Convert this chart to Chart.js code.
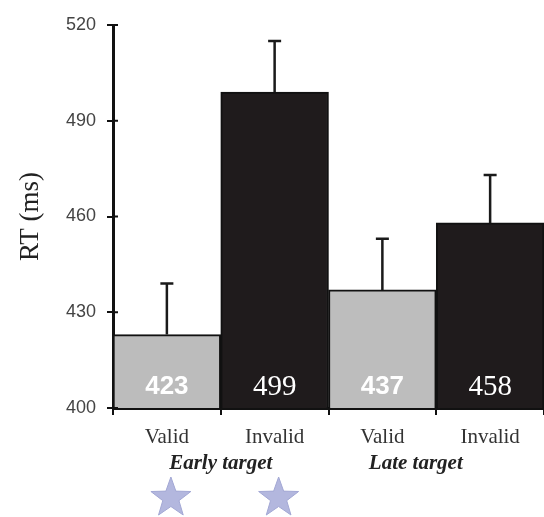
<!DOCTYPE html>
<html>
<head>
<meta charset="utf-8">
<script src="https://cdn.jsdelivr.net/npm/chart.js@4"></script>
<style>
  html, body { margin: 0; padding: 0; background: #fff; }
  #wrap { width: 544px; height: 517px; }
</style>
</head>
<body>
<div id="wrap"><canvas id="rtChart"></canvas></div>
<script>
// Reaction time data (ms)
const conditions = ["Valid", "Invalid", "Valid", "Invalid"];
const rtValues = [423, 499, 437, 458];
const rtErrors = [16, 16, 16, 15];
const groups = ["Early target", "Late target"];
const starredBars = [0, 1];
const yTicks = [400, 430, 460, 490, 520];

const barColors = ["#bcbcbc", "#1f1b1c", "#bdbdbd", "#1f1b1c"];

// error bars, value labels, group labels and stars
const extras = {
    id: "extras",
    afterDatasetsDraw(chart) {
        const ctx = chart.ctx;
        const x = chart.scales.x;
        const y = chart.scales.y;
        const area = chart.chartArea;
        const catW = (area.right - area.left) / conditions.length;

        // small inner ticks on the y axis
        ctx.save();
        ctx.strokeStyle = "#111";
        ctx.lineWidth = 2;
        yTicks.forEach(t => {
            const py = y.getPixelForValue(t);
            ctx.beginPath();
            ctx.moveTo(area.left, py);
            ctx.lineTo(area.left + 5, py);
            ctx.stroke();
        });

        // error bars (upper only)
        ctx.lineWidth = 2.5;
        ctx.strokeStyle = "#1a1a1a";
        rtValues.forEach((v, i) => {
            const cx = x.getPixelForValue(i);
            const top = y.getPixelForValue(v + rtErrors[i]);
            const base = y.getPixelForValue(v);
            ctx.beginPath();
            ctx.moveTo(cx, base);
            ctx.lineTo(cx, top);
            ctx.moveTo(cx - 6.5, top);
            ctx.lineTo(cx + 6.5, top);
            ctx.stroke();
        });

        // values inside bars
        ctx.fillStyle = "#fff";
        ctx.textAlign = "center";
        ctx.textBaseline = "middle";
        rtValues.forEach((v, i) => {
            const cx = x.getPixelForValue(i);
            ctx.font = i % 2 === 0 ? "bold 26px 'Liberation Sans', Arial, sans-serif"
                                   : "29px 'Liberation Serif', 'Times New Roman', serif";
            ctx.fillText(String(v), cx, y.getPixelForValue(400) - 21);
        });

        // group labels
        ctx.fillStyle = "#222";
        ctx.font = "italic bold 21px 'Liberation Serif', 'Times New Roman', serif";
        const groupShift = [0, -0.19];
        groups.forEach((g, gi) => {
            const mid = (x.getPixelForValue(gi * 2) + x.getPixelForValue(gi * 2 + 1)) / 2;
            ctx.fillText(g, mid + groupShift[gi] * catW, y.bottom + 56);
        });

        // stars under the early target bars
        starredBars.forEach(i => {
            const cx = x.getPixelForValue(i) + 4;
            const cy = y.bottom + 90;
            const ro = 21, ri = 8.5;
            ctx.beginPath();
            for (let k = 0; k < 10; k++) {
                const r = k % 2 === 0 ? ro : ri;
                const a = -Math.PI / 2 + k * Math.PI / 5;
                const px = cx + r * Math.cos(a);
                const py = cy + r * Math.sin(a);
                if (k === 0) ctx.moveTo(px, py); else ctx.lineTo(px, py);
            }
            ctx.closePath();
            ctx.fillStyle = "#b3b7de";
            ctx.fill();
            ctx.strokeStyle = "#a2a7d4";
            ctx.lineWidth = 1;
            ctx.stroke();
        });
        ctx.restore();
    },
};

const rtCtx = document.getElementById("rtChart").getContext("2d");
new Chart(rtCtx, {
    type: "bar",
    data: {
        labels: conditions,
        datasets: [
            {
                data: rtValues,
                backgroundColor: barColors,
                borderColor: "#111",
                borderWidth: 2,
                barPercentage: 1,
                categoryPercentage: 1,
            },
        ],
    },
    options: {
        responsive: true,
        maintainAspectRatio: false,
        animation: false,
        layout: { padding: { top: 25, right: 0, left: 0, bottom: 0 } },
        plugins: { legend: { display: false }, tooltip: { enabled: false } },
        scales: {
            y: {
                min: 400,
                max: 520,
                afterFit: s => { s.width = 113; },
                afterBuildTicks: s => { s.ticks = yTicks.map(v => ({ value: v })); },
                border: { color: "#111", width: 3 },
                grid: { drawOnChartArea: false, color: "#111", lineWidth: 2, tickLength: 6 },
                ticks: {
                    color: "#444",
                    padding: 11,
                    font: { family: "'Liberation Sans', Arial, sans-serif", size: 18 },
                },
                title: {
                    display: true,
                    text: "RT (ms)",
                    color: "#222",
                    padding: { top: 15, bottom: 0 },
                    font: { family: "'Liberation Serif', 'Times New Roman', serif", size: 27 },
                },
            },
            x: {
                afterFit: s => { s.height = 109; },
                border: { color: "#111", width: 3 },
                grid: { drawOnChartArea: false, color: "#111", lineWidth: 2, tickLength: 7 },
                ticks: {
                    color: "#333",
                    padding: 10,
                    font: { family: "'Liberation Serif', 'Times New Roman', serif", size: 21 },
                },
            },
        },
    },
    plugins: [extras],
});
</script>
</body>
</html>
